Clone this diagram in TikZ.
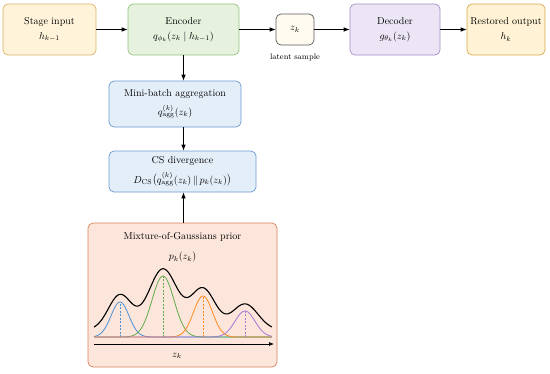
\documentclass[tikz,border=0pt]{standalone}
\usepackage{amsmath,amssymb}
\usepackage{tikz}
\usetikzlibrary{positioning, arrows.meta, calc}
\definecolor{inpfill}{HTML}{FFF3DA}
\definecolor{inpline}{HTML}{D9B36A}
\definecolor{encfill}{HTML}{E6F1DE}
\definecolor{encline}{HTML}{93C47D}
\definecolor{latfill}{HTML}{FFFBF0}
\definecolor{latline}{HTML}{5A5A5A}
\definecolor{decfill}{HTML}{ECE5F5}
\definecolor{decline}{HTML}{A48BC9}
\definecolor{outfill}{HTML}{FFF2D5}
\definecolor{outline}{HTML}{D9A94A}
\definecolor{aggfill}{HTML}{E4EEF9}
\definecolor{aggline}{HTML}{6C9BD2}
\definecolor{mogfill}{HTML}{FCE6DB}
\definecolor{mogline}{HTML}{D9825B}
\definecolor{gblue}{HTML}{4C8FD6}
\definecolor{ggreen}{HTML}{5FAA4A}
\definecolor{gorange}{HTML}{FF8A1F}
\definecolor{gpurple}{HTML}{A477D3}
\tikzset{
    block/.style={draw, rounded corners=5pt, line width=0.7pt, align=center, inner sep=0pt},
    arrow/.style={-{Latex[length=6pt, width=4.5pt]}, line width=0.7pt, black},
    caption/.style={font=\footnotesize}
}

\begin{document}
\begin{tikzpicture}[x=1pt, y=-1pt]
\useasboundingbox (0,0) rectangle (550,373);

% top row
\node[block, fill=inpfill, draw=inpline, minimum width=93pt, minimum height=51pt] (inp) at (49.5,29.5) {Stage input\\[3pt] $h_{k-1}$};
\node[block, fill=encfill, draw=encline, minimum width=111pt, minimum height=51pt] (enc) at (183.5,29.5) {Encoder\\[3pt] $q_{\phi_k}(z_k \mid h_{k-1})$};
\node[block, fill=latfill, draw=latline, minimum width=38pt, minimum height=31pt] (lat) at (295,29.5) {$z_k$};
\node[caption] (latcap) at (295,57) {latent sample};
\node[block, fill=decfill, draw=decline, minimum width=90pt, minimum height=51pt] (dec) at (395,29.5) {Decoder\\[3pt] $g_{\theta_k}(z_k)$};
\node[block, fill=outfill, draw=outline, minimum width=78pt, minimum height=51pt] (out) at (506,29.5) {Restored output\\[3pt] $h_k$};

% middle column
\node[block, fill=aggfill, draw=aggline, minimum width=132pt, minimum height=46pt] (agg) at (175,104) {Mini-batch aggregation\\[5pt] $q^{(k)}_{\mathrm{agg}}(z_k)$};
\node[block, fill=aggfill, draw=aggline, minimum width=147pt, minimum height=41pt] (csd) at (182.5,171.5) {CS divergence\\[6pt] $D_{\mathrm{CS}}\big(q^{(k)}_{\mathrm{agg}}(z_k) \,\|\, p_k(z_k)\big)$};

% prior
\node[block, fill=mogfill, draw=mogline, minimum width=189pt, minimum height=144pt] (mog) at (182.5,295) {};
\node (mogtitle) at (182.5,237) {Mixture-of-Gaussians prior};
\node (mogp) at (182.5,257) {$p_k(z_k)$};

\foreach \pos/\amp/\sig/\col in {120/35/9/gblue, 163/61/11/ggreen, 203/41/9.5/gorange, 245/26/10/gpurple} {
    \draw[\col, line width=0.8pt] plot[domain=94:272, samples=140, smooth] (\x, {337-\amp*exp(-0.5*((\x-\pos)/\sig)^2)});
    \draw[\col, dashed, line width=0.5pt, dash pattern=on 2pt off 1.5pt] (\pos,337) -- (\pos,{337-\amp});
}
\draw[black, line width=1.1pt] plot[domain=94:272, samples=180, smooth]
    (\x, {330-35*exp(-0.5*((\x-120)/11.7)^2)-61*exp(-0.5*((\x-163)/14.3)^2)-41*exp(-0.5*((\x-203)/12.3)^2)-26*exp(-0.5*((\x-245)/13)^2)});

\coordinate (ax0) at (94,344);
\coordinate (ax1) at (274,344);
\draw[-{Latex[length=5pt, width=4pt]}, line width=0.7pt] (ax0) -- (ax1);
\node (zax) at (177,356) {$z_k$};

% connectors
\draw[arrow] (inp) -- (enc);
\draw[arrow] (enc) -- (lat);
\draw[arrow] (lat) -- (dec);
\draw[arrow] (dec) -- (out);
\draw[arrow] (enc.south) -- (enc.south |- agg.north);
\draw[arrow] (agg.south -| enc) -- (csd.north -| enc);
\draw[arrow] (mog.north -| enc) -- (csd.south -| enc);
\end{tikzpicture}
\end{document}
